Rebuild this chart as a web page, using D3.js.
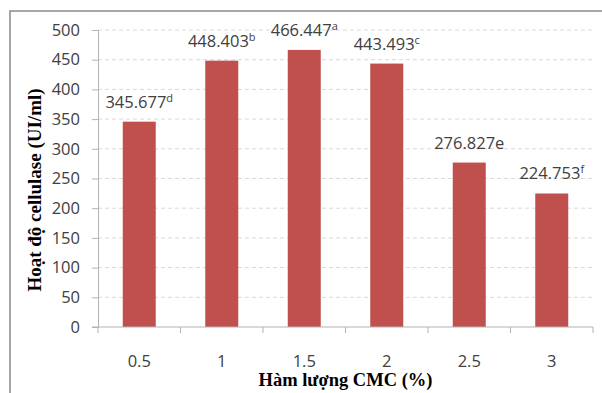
<!DOCTYPE html>
<html>
<head>
<meta charset="utf-8">
<script src="https://cdn.jsdelivr.net/npm/d3@7/dist/d3.min.js"></script>
<style>
  html, body { margin: 0; padding: 0; background: #fff; }
  svg { display: block; }
</style>
</head>
<body>
<svg id="chart" width="602" height="393"></svg>
<script>
// CMC concentration (%) and measured cellulase activity (UI/ml)
const categories = ["0.5", "1", "1.5", "2", "2.5", "3"];
const activity = [345.677, 448.403, 466.447, 443.493, 276.827, 224.753];
// significance letters; "e" is written inline, the rest as superscripts
const letters = ["d", "b", "a", "c", "e", "f"];
const letterSup = [true, true, true, true, false, true];
const yTicks = [0, 50, 100, 150, 200, 250, 300, 350, 400, 450, 500];

const svg = d3.select("#chart");
const margin = { left: 98, right: 9, top: 30, bottom: 66 };
const W = 602, H = 393;

// outer frame (runs off the right and bottom edges)
svg.append("rect")
  .attr("x", 10).attr("y", 11)
  .attr("width", 620).attr("height", 420)
  .attr("fill", "#fff")
  .attr("stroke", "#8a8a8a").attr("stroke-width", 1.5);

const x = d3.scaleBand()
  .domain(categories)
  .range([margin.left, W - margin.right])
  .paddingInner(0.6).paddingOuter(0.3);

const y = d3.scaleLinear()
  .domain([0, 500])
  .range([H - margin.bottom, margin.top]);

// dashed horizontal gridlines
svg.append("g")
  .selectAll("line")
  .data(yTicks.filter(d => d > 0))
  .join("line")
  .attr("x1", margin.left).attr("x2", W - margin.right)
  .attr("y1", d => y(d)).attr("y2", d => y(d))
  .attr("stroke", "#d9d9d9").attr("stroke-width", 1)
  .attr("stroke-dasharray", "4,3");

// y axis
const yAxis = svg.append("g")
  .attr("transform", `translate(${margin.left},0)`)
  .call(d3.axisLeft(y).tickValues(yTicks).tickSize(6).tickPadding(12));
yAxis.select(".domain").attr("stroke", "#b3b3b3");
yAxis.selectAll(".tick line").attr("stroke", "#b3b3b3");
yAxis.selectAll(".tick text")
  .attr("fill", "#404040")
  .style("font-family", "'Open Sans', sans-serif")
  .style("font-size", "16.5px");

// bars
svg.append("g")
  .selectAll("rect")
  .data(activity)
  .join("rect")
  .attr("x", (d, i) => x(categories[i]))
  .attr("y", d => y(d))
  .attr("width", x.bandwidth())
  .attr("height", d => y(0) - y(d))
  .attr("fill", "#C0504D");

// x axis with ticks on category boundaries
const xEdges = d3.scaleLinear().domain([0, categories.length]).range([margin.left, W - margin.right]);
const xAxisG = svg.append("g").attr("transform", `translate(0,${y(0)})`);
xAxisG.append("line")
  .attr("x1", margin.left - 6).attr("x2", W - margin.right)
  .attr("stroke", "#b3b3b3");
xAxisG.selectAll("line.tk")
  .data(d3.range(categories.length + 1))
  .join("line").attr("class", "tk")
  .attr("x1", d => xEdges(d)).attr("x2", d => xEdges(d))
  .attr("y1", 0).attr("y2", 6)
  .attr("stroke", "#b3b3b3");
xAxisG.selectAll("text")
  .data(categories)
  .join("text")
  .attr("x", d => x(d) + x.bandwidth() / 2)
  .attr("y", 40)
  .attr("text-anchor", "middle")
  .attr("fill", "#404040")
  .style("font-family", "'Open Sans', sans-serif")
  .style("font-size", "16.5px")
  .text(d => d);

// value labels with significance letters
const lab = svg.append("g")
  .selectAll("text")
  .data(activity)
  .join("text")
  .attr("x", (d, i) => x(categories[i]) + x.bandwidth() / 2)
  .attr("y", d => y(d) - 14)
  .attr("text-anchor", "middle")
  .attr("fill", "#404040")
  .style("font-family", "'Open Sans', sans-serif")
  .style("font-size", "16.5px");
lab.append("tspan").text(d => d.toFixed(3));
lab.append("tspan")
  .attr("dy", (d, i) => letterSup[i] ? -6 : 0)
  .style("font-size", (d, i) => letterSup[i] ? "11px" : "16.5px")
  .text((d, i) => letters[i]);

// axis titles
svg.append("text")
  .attr("x", (margin.left + W - margin.right) / 2)
  .attr("y", 386)
  .attr("text-anchor", "middle")
  .attr("fill", "#000")
  .style("font-family", "'Liberation Serif', 'Times New Roman', serif")
  .style("font-weight", "bold")
  .style("font-size", "18.5px")
  .text("Hàm lượng CMC (%)");

svg.append("text")
  .attr("transform", "translate(41,190) rotate(-90)")
  .attr("text-anchor", "middle")
  .attr("fill", "#000")
  .style("font-family", "'Liberation Serif', 'Times New Roman', serif")
  .style("font-weight", "bold")
  .style("font-size", "19px")
  .text("Hoạt độ cellulase (UI/ml)");
</script>
</body>
</html>
